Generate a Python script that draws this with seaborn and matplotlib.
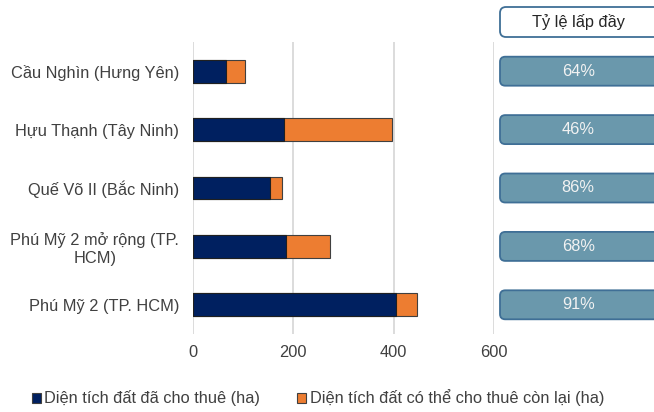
import matplotlib
matplotlib.use("Agg")
import matplotlib.pyplot as plt
from matplotlib.patches import FancyBboxPatch, Patch
import seaborn as sns
import pandas as pd

# Industrial parks and their land areas (ha)
parks = [
    "Cầu Nghìn (Hưng Yên)",
    "Hựu Thạnh (Tây Ninh)",
    "Quế Võ II (Bắc Ninh)",
    "Phú Mỹ 2 mở rộng (TP.\nHCM)",
    "Phú Mỹ 2 (TP. HCM)",
]
leased = [66, 182, 153, 186, 405]
total = [103, 397, 178, 274, 447]
occupancy = ["64%", "46%", "86%", "68%", "91%"]
xticks = [0, 200, 400, 600]

series_leased = "Diện tích đất đã cho thuê (ha)"
series_remaining = "Diện tích đất có thể cho thuê còn lại (ha)"

navy = "#002060"
orange = "#ED7D31"
box_fill = "#6A98AC"
box_edge = "#3F6F96"
text_col = "#404040"
fs = 11.8

sns.set_theme(style="white")
plt.rcParams["font.family"] = ["Liberation Sans", "DejaVu Sans"]

df = pd.DataFrame({"park": parks, "leased": leased, "total": total})

fig = plt.figure(figsize=(6.54, 4.12), dpi=100)
W, H = 654, 412
ax = fig.add_axes([193 / W, 1 - 334 / H, (494 - 193) / W, (334 - 42) / H])

# Stacked bars: full area behind, leased part in front
sns.barplot(data=df, y="park", x="total", color=orange, orient="h", width=0.39,
            edgecolor="#404040", linewidth=0.8, saturation=1, ax=ax)
sns.barplot(data=df, y="park", x="leased", color=navy, orient="h", width=0.39,
            edgecolor="#202020", linewidth=0.8, saturation=1, ax=ax)

ax.set_xlim(0, 600)
ax.set_ylim(4.5, -0.5)
ax.set_xticks(xticks)
ax.set_xlabel("")
ax.set_ylabel("")
ax.grid(axis="x", color="#D9D9D9", linewidth=1.3)
ax.set_axisbelow(True)
for s in ax.spines.values():
    s.set_visible(False)
ax.tick_params(axis="both", length=0, labelsize=fs, labelcolor=text_col)
ax.tick_params(axis="x", pad=8)
ax.tick_params(axis="y", pad=10)
for lbl in ax.get_yticklabels():
    lbl.set_horizontalalignment("right")
    lbl.set_multialignment("center")

# Occupancy panel on the right, sharing the category rows
ax2 = fig.add_axes([494 / W, 1 - 334 / H, (W - 494) / W, (334 - 42) / H], sharey=ax)
ax2.set_ylim(4.5, -0.5)
bb = ax2.get_window_extent()
px_per_unit = bb.height / 5.0
xmax = bb.width / px_per_unit
ax2.set_xlim(0, xmax)
ax2.axis("off")
x0 = 6 / px_per_unit
bw = xmax - x0 + 0.2
bh = 29 / px_per_unit
for i, lab in enumerate(occupancy):
    ax2.add_patch(FancyBboxPatch((x0, i - bh / 2), bw, bh,
                                 boxstyle="round,pad=0,rounding_size=0.09",
                                 facecolor=box_fill, edgecolor=box_edge,
                                 linewidth=1.3, clip_on=False))
    ax2.text((x0 + xmax) / 2 + 0.02, i, lab, ha="center", va="center",
             fontsize=fs, color="#F2F2F2")

# Header box above the occupancy panel
hdr = fig.add_axes([494 / W, 1 - 38 / H, (W - 494) / W, 33 / H])
hdr.set_xlim(0, bb.width)
hdr.set_ylim(0, 33)
hdr.axis("off")
hdr.add_patch(FancyBboxPatch((6, 1), bb.width, 30,
                             boxstyle="round,pad=0,rounding_size=6",
                             facecolor="white", edgecolor=box_edge,
                             linewidth=1.3, clip_on=False))
hdr.text((6 + bb.width) / 2 + 2, 16, "Tỷ lệ lấp đầy", ha="center", va="center",
         fontsize=fs, color="#262626")

handles = [Patch(facecolor=navy, edgecolor="#404040", linewidth=0.8, label=series_leased),
           Patch(facecolor=orange, edgecolor="#404040", linewidth=0.8, label=series_remaining)]
fig.legend(handles=handles, loc="center", bbox_to_anchor=(0.486, 0.034), ncol=2,
           frameon=False, fontsize=fs, handlelength=0.55, handleheight=0.55,
           handletextpad=0.2, columnspacing=2.3, labelcolor=text_col)

fig.savefig("out.png", dpi=100)
